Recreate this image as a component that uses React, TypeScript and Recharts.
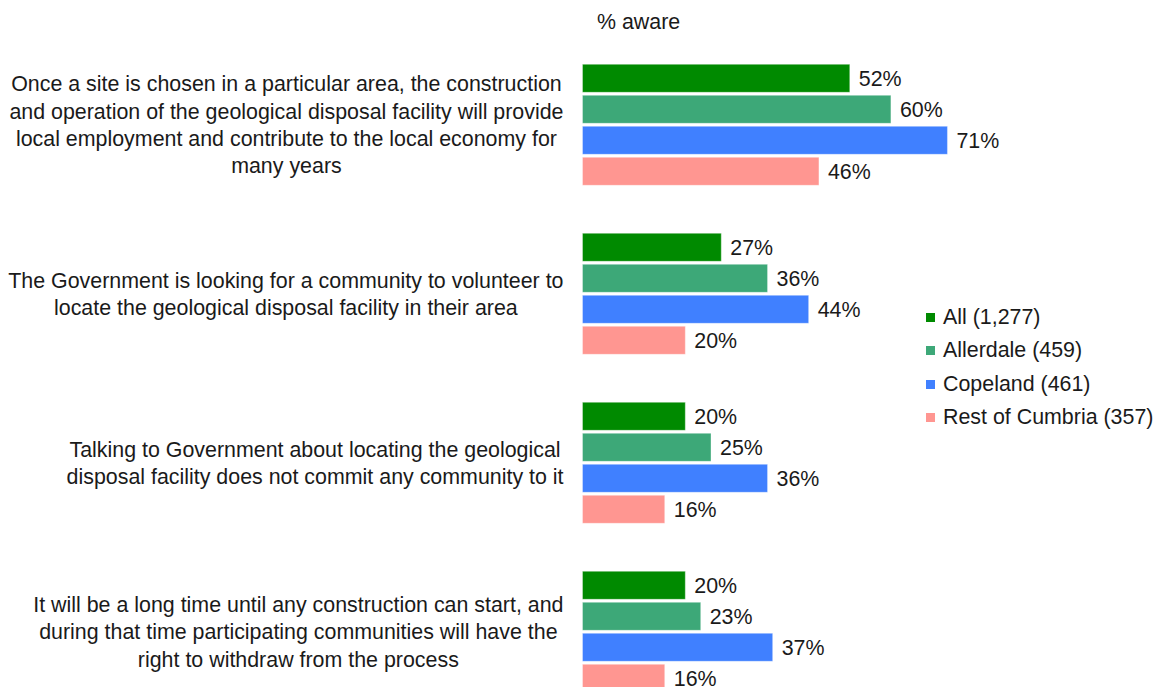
import { BarChart, Bar, XAxis, YAxis, LabelList } from 'recharts'

const CATEGORIES = [
  'Once a site is chosen in a particular area, the construction|and operation of the geological disposal facility will provide|local employment and contribute to the local economy for|many years',
  'The Government is looking for a community to volunteer to|locate the geological disposal facility in their area',
  'Talking to Government about locating the geological|disposal facility does not commit any community to it',
  'It will be a long time until any construction can start, and|during that time participating communities will have the|right to withdraw from the process',
]

const ALL = [52, 27, 20, 20]
const ALLERDALE = [60, 36, 25, 23]
const COPELAND = [71, 44, 36, 37]
const REST = [46, 20, 16, 16]

const SERIES = [
  { key: 'all', name: 'All (1,277)', color: '#008A00' },
  { key: 'allerdale', name: 'Allerdale (459)', color: '#3DA878' },
  { key: 'copeland', name: 'Copeland (461)', color: '#4080FF' },
  { key: 'rest', name: 'Rest of Cumbria (357)', color: '#FF9691' },
]

const data = CATEGORIES.map((label, i) => ({
  label,
  all: ALL[i],
  allerdale: ALLERDALE[i],
  copeland: COPELAND[i],
  rest: REST[i],
}))

const FONT = '"Liberation Sans", Arial, Helvetica, sans-serif'
const FONT_SIZE = 21.4
const LINE_H = 27.3
const TEXT_RIGHT = 563.5

let ctx: CanvasRenderingContext2D | null = null
function measure(s: string) {
  if (!ctx) {
    ctx = document.createElement('canvas').getContext('2d')
    if (ctx) ctx.font = `${FONT_SIZE}px ${FONT}`
  }
  return ctx ? ctx.measureText(s).width : s.length * 10
}

// label block is right aligned, lines centred inside it
function CategoryTick(props: any) {
  const { y, payload } = props
  const lines: string[] = String(payload.value).split('|')
  const maxW = Math.max(...lines.map(measure))
  const cx = TEXT_RIGHT - maxW / 2
  return (
    <g>
      {lines.map((ln, i) => (
        <text
          key={i}
          x={cx}
          y={y + (i - (lines.length - 1) / 2) * LINE_H}
          dy="0.35em"
          textAnchor="middle"
          fill="#1a1a1a"
          fontSize={FONT_SIZE}
          fontFamily={FONT}
        >
          {ln}
        </text>
      ))}
    </g>
  )
}

function LegendBox() {
  return (
    <div style={{ position: 'absolute', left: 926, top: 301, display: 'flex', flexDirection: 'column' }}>
      {SERIES.map(s => (
        <div key={s.key} style={{ display: 'flex', alignItems: 'center', height: 33.3 }}>
          <div style={{ width: 9, height: 9, background: s.color, marginRight: 8 }} />
          <span style={{ fontSize: FONT_SIZE, color: '#1a1a1a', whiteSpace: 'nowrap' }}>
            {s.name}
          </span>
        </div>
      ))}
    </div>
  )
}

export default function App() {
  return (
    <div style={{
      position: 'absolute', left: 0, top: 0, width: 1156, height: 687,
      overflow: 'hidden', background: '#fff', fontFamily: FONT,
    }}>
      <BarChart
        width={1156}
        height={720}
        data={data}
        layout="vertical"
        margin={{ top: 40.3, right: 59.5, bottom: 3.7, left: 0 }}
        barSize={28}
        barGap={3}
      >
        <XAxis type="number" domain={[0, 100]} hide />
        <YAxis
          type="category"
          dataKey="label"
          width={582.5}
          axisLine={false}
          tickLine={false}
          tick={<CategoryTick />}
          interval={0}
        />
        {SERIES.map(s => (
          <Bar
            key={s.key}
            dataKey={s.key}
            name={s.name}
            fill={s.color}
            stroke="#ffffff"
            strokeOpacity={0.35}
            strokeWidth={1}
            isAnimationActive={false}
          >
            <LabelList
              dataKey={s.key}
              position="right"
              offset={9}
              formatter={(v: any) => `${v}%`}
              fill="#1a1a1a"
              fontSize={FONT_SIZE}
              fontFamily={FONT}
            />
          </Bar>
        ))}
      </BarChart>
      <div style={{
        position: 'absolute', left: 597, top: 10, fontSize: FONT_SIZE, color: '#1a1a1a',
      }}>
        % aware
      </div>
      <LegendBox />
    </div>
  )
}
